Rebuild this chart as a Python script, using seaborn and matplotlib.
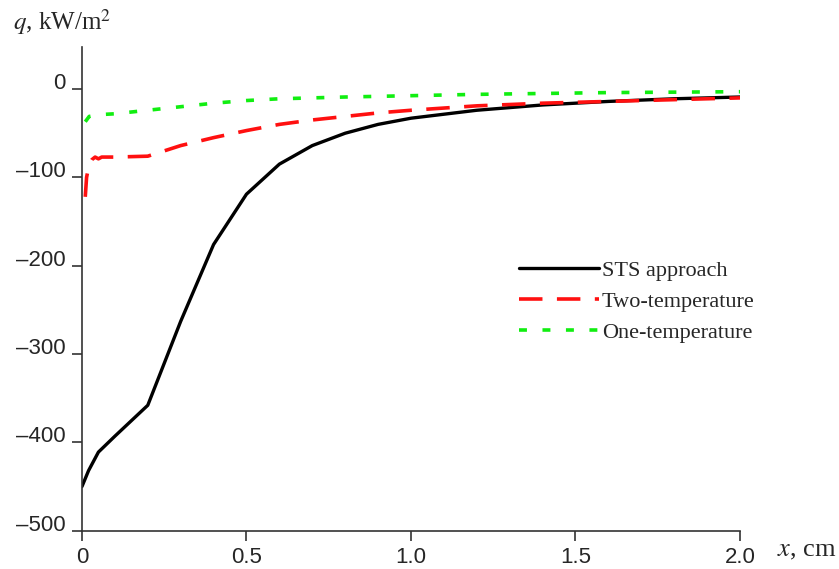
import matplotlib
matplotlib.use("Agg")
import matplotlib.pyplot as plt
import numpy as np
import pandas as pd
import seaborn as sns

# STS approach (black, solid)
x_sts = [0.0, 0.02, 0.05, 0.1, 0.2, 0.3, 0.4, 0.5, 0.6, 0.7, 0.8, 0.9, 1.0,
         1.2, 1.4, 1.6, 1.8, 2.0]
q_sts = [-450, -432, -411, -393, -358, -263, -176, -119, -85, -64, -50, -40, -33,
         -24, -18, -14, -11, -9]

# Two-temperature (red, dashed)
x_two = [0.01, 0.014, 0.022, 0.03, 0.04, 0.05, 0.06, 0.1, 0.2, 0.3, 0.4, 0.5,
         0.6, 0.7, 0.8, 0.9, 1.0, 1.2, 1.4, 1.6, 1.8, 2.0]
q_two = [-122, -100, -85, -80, -77, -79, -77, -77, -76, -64, -55, -47,
         -40, -35, -31, -27, -24, -19, -16, -14, -12, -10]

# One-temperature (green, dotted)
x_one = [0.01, 0.022, 0.05, 0.1, 0.2, 0.3, 0.4, 0.5, 0.6, 0.8, 1.0, 1.2,
         1.4, 1.6, 1.8, 2.0]
q_one = [-37, -31, -29, -28, -24, -20, -16, -13, -11, -9, -7.5, -6,
         -5, -4, -3.5, -3]

labels = ["STS approach", "Two-temperature", "One-temperature"]

y_ticks = [-500, -400, -300, -200, -100, 0]
y_ticklabels = ["\u2013500", "\u2013400", "\u2013300", "\u2013200", "\u2013100", "0"]
x_ticks = [0, 0.5, 1.0, 1.5, 2.0]
x_ticklabels = ["0", "0.5", "1.0", "1.5", "2.0"]

sns.set_style("ticks")
plt.rcParams["font.family"] = ["Liberation Sans", "DejaVu Sans"]

fig = plt.figure(figsize=(8.39, 5.69), dpi=100)
ax = fig.add_axes([0.0977, 0.0673, 0.7843, 0.8507])

sns.lineplot(x=x_sts, y=q_sts, ax=ax, color="black", lw=2.4,
             label=labels[0], estimator=None, sort=False)
sns.lineplot(x=x_two, y=q_two, ax=ax, color="#ff1010", lw=2.6,
             label=labels[1], estimator=None, sort=False)
sns.lineplot(x=x_one, y=q_one, ax=ax, color="#11ee11", lw=2.6,
             label=labels[2], estimator=None, sort=False)
ax.lines[1].set_dashes([6.5, 4])
ax.lines[2].set_dashes([2.2, 4.3])

ax.set_xlim(0, 2.0)
ax.set_ylim(-500, 48)
ax.set_xticks(x_ticks)
ax.set_xticklabels(x_ticklabels, fontsize=16)
ax.set_yticks(y_ticks)
ax.set_yticklabels(y_ticklabels, fontsize=16, va="baseline")
ax.tick_params(axis="y", direction="out", length=7, width=1.2, color="#333333", pad=5)
ax.tick_params(axis="x", direction="out", length=7, width=1.2, color="#333333", pad=5)
for s in ("left", "bottom"):
    ax.spines[s].set_linewidth(1.2)
    ax.spines[s].set_color("#333333")
sns.despine(ax=ax)
ax.set_xlabel("")
ax.set_ylabel("")

fig.text(0.016, 0.948, r"$q$, kW/m$^2$", fontsize=18, family="Liberation Serif",
         math_fontfamily="stix", ha="left", va="baseline")
fig.text(0.926, 0.022, r"$x$, cm", fontsize=19, family="Liberation Serif",
         math_fontfamily="stix", ha="left", va="baseline")

leg = ax.legend(loc="upper left", bbox_to_anchor=(0.633, 0.6), frameon=False,
                handlelength=3.6, handletextpad=0.15, labelspacing=0.47,
                prop={"family": "Liberation Serif", "size": 16})

fig.savefig("out.png", dpi=100)
